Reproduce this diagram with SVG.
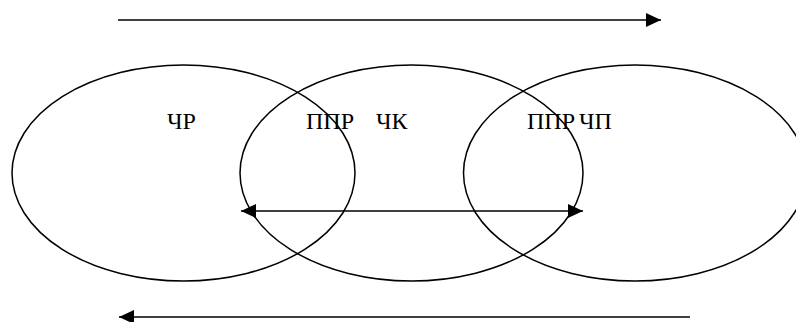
<svg xmlns="http://www.w3.org/2000/svg" width="796" height="322" viewBox="0 0 796 322">
<style>
.e{fill:none;stroke:#000;stroke-width:1.5}
.c{stroke:#000;stroke-width:1.5;fill:none}
.t{font-family:"Liberation Serif","Times New Roman",serif;font-size:24px;fill:#000}
</style>
<defs>
<marker id="a" markerWidth="15" markerHeight="14" refX="15" refY="7" orient="auto" markerUnits="userSpaceOnUse">
<path d="M0,0 L15,7 L0,14 z" fill="#000"/>
</marker>
<marker id="b" markerWidth="15" markerHeight="14" refX="0" refY="7" orient="auto" markerUnits="userSpaceOnUse">
<path d="M15,0 L0,7 L15,14 z" fill="#000"/>
</marker>
</defs>
<rect width="796" height="322" fill="#fff"/>
<g id="n1"><ellipse class="e" cx="183.5" cy="173" rx="171.5" ry="108"/><text class="t" x="167" y="129">ЧР</text></g>
<g id="n2"><ellipse class="e" cx="411.5" cy="173" rx="171.5" ry="108"/><text class="t" y="129"><tspan x="306">ППР</tspan> <tspan x="376">ЧК</tspan></text></g>
<g id="n3"><ellipse class="e" cx="635" cy="173" rx="171.5" ry="108"/><text class="t" y="129"><tspan x="527">ППР</tspan> <tspan x="579">ЧП</tspan></text></g>
<g id="connectors">
<line class="c" x1="118" y1="20" x2="661" y2="20" marker-end="url(#a)"/>
<line class="c" x1="690" y1="317" x2="119" y2="317" marker-end="url(#a)"/>
<line class="c" x1="241" y1="211" x2="583" y2="211" marker-start="url(#b)" marker-end="url(#a)"/>
</g>
</svg>
